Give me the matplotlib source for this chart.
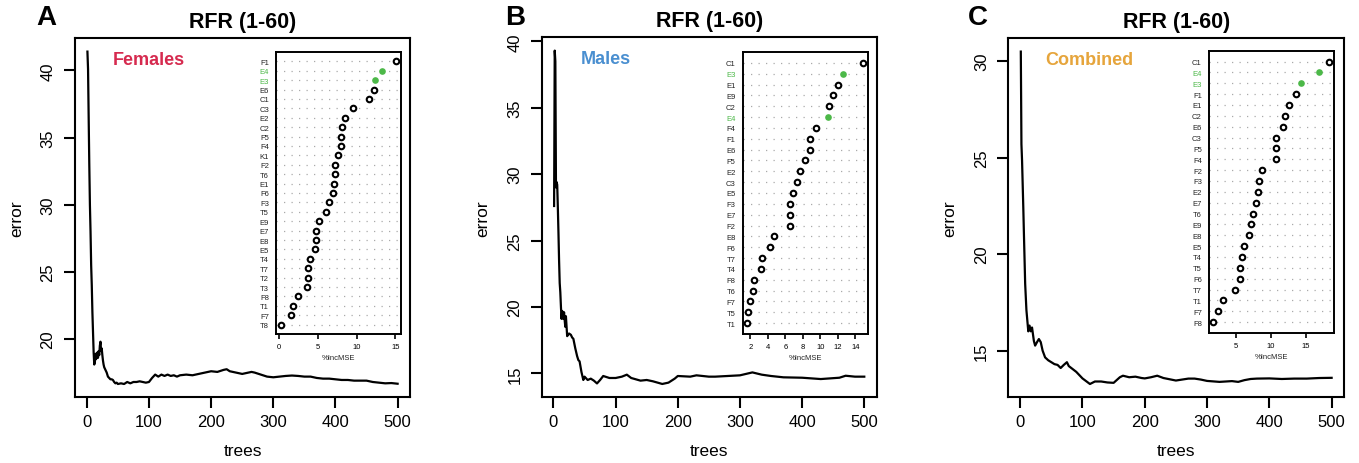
import matplotlib
matplotlib.use("Agg")
import matplotlib.pyplot as plt
from matplotlib.ticker import MultipleLocator

plt.rcParams['font.family'] = ['Liberation Sans', 'DejaVu Sans']

# ---- error curves (trees, error) ----
trees_a = [1, 2, 3, 4, 5, 6, 7, 8, 9, 10, 11, 12, 13, 14, 15, 16, 17, 18, 19, 20,
           21, 22, 23, 24, 25, 26, 27, 28, 30, 32, 34, 36, 38, 40, 42, 44, 46, 48, 50,
           55, 60, 65, 70, 75, 80, 85, 90, 95, 100, 105, 110, 115, 120, 125, 130, 135,
           140, 145, 150, 160, 170, 180, 190, 200, 210, 220, 225, 230, 240, 250, 260,
           265, 270, 280, 290, 300, 310, 320, 330, 340, 350, 360, 370, 380, 390, 400,
           410, 420, 430, 440, 450, 460, 470, 480, 490, 500]
error_a = [41.4, 40.1, 36.5, 33.0, 30.0, 28.0, 25.5, 24.0, 22.0, 20.5, 19.0, 18.1, 18.3,
           18.9, 18.5, 18.9, 19.0, 18.6, 19.1, 18.8, 19.5, 19.8, 19.1, 19.3, 18.8, 18.4,
           18.1, 17.9, 17.7, 17.5, 17.2, 17.1, 17.0, 17.0, 16.95, 16.8, 16.7, 16.75, 16.65,
           16.7, 16.65, 16.8, 16.7, 16.8, 16.8, 16.85, 16.8, 16.75, 16.8, 17.1, 17.35, 17.2,
           17.35, 17.25, 17.35, 17.25, 17.3, 17.2, 17.3, 17.35, 17.3, 17.4, 17.5, 17.6,
           17.55, 17.7, 17.75, 17.6, 17.5, 17.4, 17.5, 17.55, 17.5, 17.35, 17.2, 17.15,
           17.2, 17.25, 17.28, 17.25, 17.2, 17.2, 17.1, 17.05, 17.05, 17.0, 16.95, 16.95,
           16.9, 16.9, 16.9, 16.8, 16.75, 16.7, 16.72, 16.67]

trees_b = [1, 2, 3, 4, 5, 6, 7, 8, 9, 10, 11, 12, 13, 14, 15, 16, 17, 18, 19, 20, 22,
           25, 28, 30, 32, 35, 38, 40, 42, 45, 48, 50, 55, 60, 65, 70, 75, 80, 90, 100,
           110, 118, 125, 140, 150, 160, 175, 185, 195, 200, 220, 230, 250, 260, 280,
           300, 320, 335, 350, 370, 400, 430, 460, 470, 485, 500]
error_b = [27.6, 39.3, 38.5, 29.0, 29.4, 29.2, 27.5, 25.6, 23.5, 21.8, 21.1, 20.0, 19.1,
           19.7, 19.3, 19.1, 19.6, 19.0, 18.5, 19.3, 17.8, 18.0, 17.9, 17.7, 17.6, 16.9,
           16.3, 16.0, 15.9, 15.1, 14.5, 14.75, 14.5, 14.6, 14.45, 14.24, 14.5, 14.8,
           14.65, 14.65, 14.75, 14.9, 14.65, 14.45, 14.5, 14.4, 14.2, 14.3, 14.6, 14.8,
           14.75, 14.85, 14.75, 14.75, 14.8, 14.85, 15.07, 14.9, 14.8, 14.7, 14.67,
           14.57, 14.67, 14.82, 14.75, 14.75]

trees_c = [1, 2, 3, 5, 6, 8, 10, 13, 15, 17, 19, 22, 24, 27, 30, 33, 36, 40, 45, 50,
           55, 60, 65, 70, 75, 78, 82, 90, 100, 112, 120, 130, 140, 150, 160, 165, 175,
           185, 195, 200, 210, 220, 230, 250, 270, 280, 290, 300, 320, 340, 350, 360,
           370, 380, 400, 420, 440, 460, 480, 500]
error_c = [30.5, 25.7, 24.85, 22.4, 21.05, 18.46, 17.1, 16.0, 16.3, 16.0, 16.2, 15.5,
           15.26, 15.44, 15.6, 15.44, 15.0, 14.65, 14.5, 14.4, 14.3, 14.26, 14.1, 14.26,
           14.4, 14.2, 14.1, 13.9, 13.56, 13.27, 13.4, 13.4, 13.35, 13.33, 13.62, 13.7,
           13.62, 13.65, 13.58, 13.56, 13.62, 13.7, 13.58, 13.45, 13.55, 13.55, 13.5,
           13.43, 13.38, 13.42, 13.38, 13.47, 13.53, 13.55, 13.56, 13.53, 13.55, 13.55,
           13.58, 13.59]

# ---- variable importance (%IncMSE), top to bottom ----
vars_a = ["F1", "E4", "E3", "E6", "C1", "C3", "E2", "C2", "F5", "F4", "K1", "F2", "T6",
          "E1", "F6", "F3", "T5", "E9", "E7", "E8", "E5", "T4", "T7", "T2", "T3", "F8",
          "T1", "F7", "T8"]
imp_a = [15.1, 13.3, 12.4, 12.2, 11.6, 9.5, 8.45, 8.06, 8.0, 7.95, 7.6, 7.25, 7.2, 7.1,
         7.0, 6.4, 6.1, 5.2, 4.7, 4.7, 4.6, 4.0, 3.75, 3.7, 3.6, 2.5, 1.77, 1.6, 0.2]

vars_b = ["C1", "E3", "E1", "E9", "C2", "E4", "F4", "F1", "E6", "F5", "E2", "C3", "E5",
          "F3", "E7", "F2", "E8", "F6", "T7", "T4", "F8", "T6", "F7", "T5", "T1"]
imp_b = [14.9, 12.55, 11.97, 11.4, 10.97, 10.86, 9.5, 8.8, 8.8, 8.25, 7.7, 7.33, 6.9,
         6.56, 6.5, 6.5, 4.76, 4.26, 3.34, 3.2, 2.46, 2.35, 2.0, 1.77, 1.66]

vars_c = ["C1", "E4", "E3", "F1", "E1", "C2", "E6", "C3", "F5", "F4", "F2", "F3", "E2",
          "E7", "T6", "E9", "E8", "E5", "T4", "T5", "F6", "T7", "T1", "F7", "F8"]
imp_c = [18.3, 16.8, 14.3, 13.6, 12.6, 12.0, 11.8, 10.8, 10.7, 10.7, 8.8, 8.4, 8.25,
         7.9, 7.5, 7.15, 6.87, 6.15, 5.9, 5.7, 5.67, 4.95, 3.27, 2.5, 1.84]

highlight = ["E3", "E4"]
inset_ticks = [[0, 5, 10, 15], [2, 4, 6, 8, 10, 12, 14], [5, 10, 15]]

panels = [
    ("A", "Females", "#d62a4f", trees_a, error_a, vars_a, imp_a),
    ("B", "Males", "#4a8fd0", trees_b, error_b, vars_b, imp_b),
    ("C", "Combined", "#e6a53c", trees_c, error_c, vars_c, imp_c),
]

main_pos = [[0.0552, 0.1416, 0.2465, 0.7737],
            [0.3986, 0.1416, 0.2465, 0.7759],
            [0.7420, 0.1416, 0.2470, 0.7737]]
inset_pos = [[0.2031, 0.2780, 0.0918, 0.6078],
             [0.5465, 0.2780, 0.0922, 0.6078],
             [0.8894, 0.2802, 0.0920, 0.6084]]
label_x = [0.22, 0.19, 0.2425]
letter_x = [0.027, 0.372, 0.712]
green = "#4cb848"

fig = plt.figure(figsize=(13.59, 4.64), dpi=100)

for i, (letter, group, gcol, tr, err, vnames, imp) in enumerate(panels):
    ax = fig.add_axes(main_pos[i])
    ax.plot(tr, err, color="black", lw=1.6)
    ax.margins(x=0.04, y=0.04)
    ax.xaxis.set_major_locator(MultipleLocator(100))
    ax.yaxis.set_major_locator(MultipleLocator(5))
    for s in ax.spines.values():
        s.set_linewidth(1.5)
    ax.tick_params(direction="out", length=8, width=1.5, labelsize=12)
    ax.tick_params(axis="x", pad=4)
    ax.tick_params(axis="y", pad=6)
    for lab in ax.get_yticklabels():
        lab.set_rotation(90)
        lab.set_va("center")
    ax.set_xlabel("trees", fontsize=12.5, labelpad=10)
    ax.set_ylabel("error", fontsize=12.5, labelpad=12)
    ax.set_title("RFR (1-60)", fontsize=15.5, fontweight="bold", pad=8)
    ax.text(label_x[i], 0.94, group, transform=ax.transAxes,
            color=gcol, fontsize=13, fontweight="bold", ha="center", va="center")
    fig.text(letter_x[i], 0.962, letter, fontsize=20, fontweight="bold",
             ha="left", va="center")

    # dot chart inset
    axi = fig.add_axes(inset_pos[i])
    n = len(vnames)
    ypos = list(range(n, 0, -1))
    axi.margins(x=0.04)
    for y in ypos:
        axi.axhline(y, color="#aaaaaa", lw=0.9, ls=(0, (1, 5)), zorder=1)
    for y, v, name in zip(ypos, imp, vnames):
        if name in highlight:
            axi.plot(v, y, "o", color=green, ms=4.8, mew=0, zorder=3)
        else:
            axi.plot(v, y, "o", mfc="white", mec="black", ms=4.0, mew=1.5, zorder=3)
    axi.set_ylim(0, n + 1)
    axi.set_yticks(ypos)
    axi.set_yticklabels(vnames)
    for lab, name in zip(axi.get_yticklabels(), vnames):
        lab.set_color(green if name in highlight else "#222222")
    axi.tick_params(axis="y", length=0, labelsize=5.5, pad=5)
    axi.set_xticks(inset_ticks[i])
    axi.tick_params(axis="x", direction="out", length=3.5, width=1.2, labelsize=5.5, pad=3)
    axi.set_xlabel("%IncMSE", fontsize=5.5, labelpad=3, color="#222222")
    for s in axi.spines.values():
        s.set_linewidth(1.4)

fig.savefig("out.png", dpi=100)
